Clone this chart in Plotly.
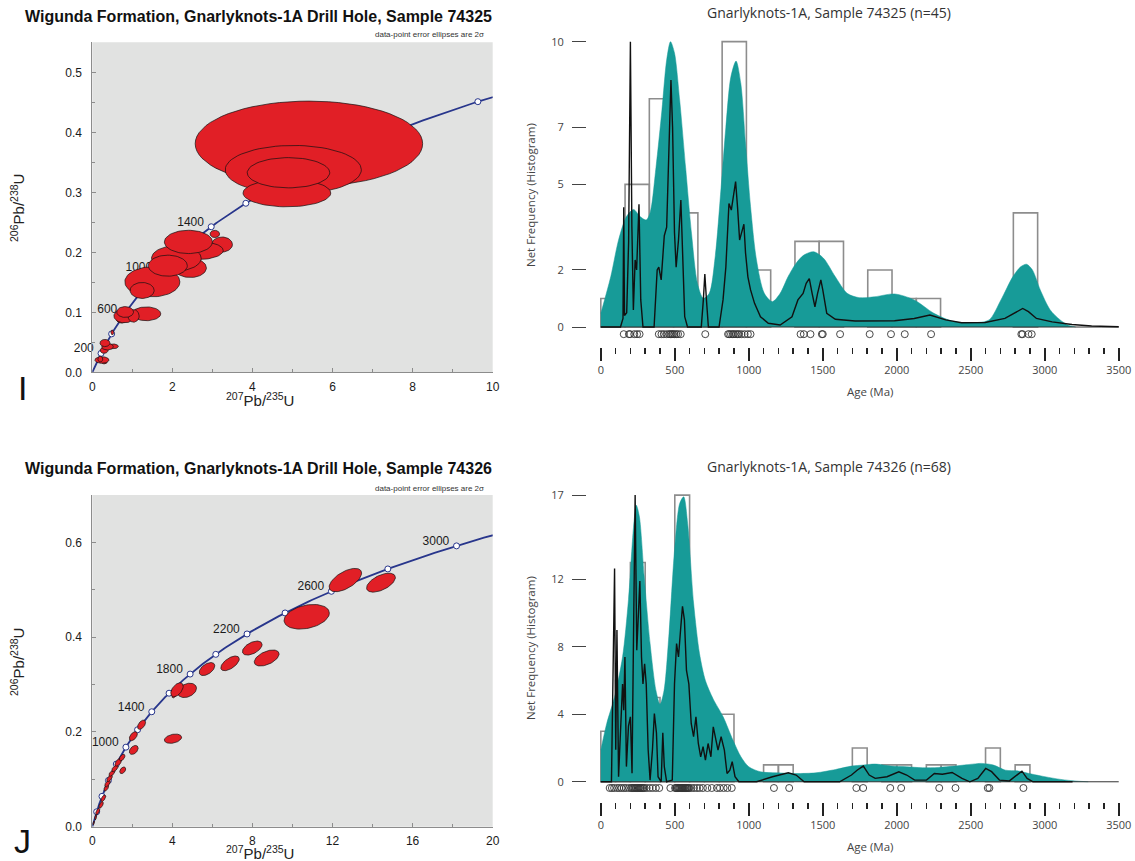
import numpy as np
import plotly.graph_objects as go

W, H = 1135, 861

# ---------------- Concordia (decay constants, per Ma) ----------------
LAMBDA_238 = 1.55125e-4
LAMBDA_235 = 9.8485e-4
CONC_MARKER_AGES = list(range(200, 3001, 200))
TOP_LABEL_AGES = [200, 600, 1000, 1400, 1800, 2200]
BOT_LABEL_AGES = [1000, 1400, 1800, 2200, 2600, 3000]

# ---------------- Error ellipses (cx, cy, half-x, half-y, rho) ----------------
top_ell_cx = [0.30, 0.24, 0.20, 0.296, 0.52, 0.38, 0.316, 0.50,
              0.73, 1.35, 0.80, 1.03, 0.82,
              3.24, 3.06, 2.65, 2.45, 2.10, 1.50, 1.886, 1.245, 2.40,
              5.41, 5.02, 4.86, 4.90]
top_ell_cy = [0.017, 0.0205, 0.022, 0.0366, 0.0432, 0.0427, 0.0488, 0.0665,
              0.088, 0.0975, 0.094, 0.094, 0.1005,
              0.213, 0.2306, 0.203, 0.174, 0.190, 0.1508, 0.1777, 0.1364, 0.2173,
              0.381, 0.3376, 0.2988, 0.3326]
top_ell_sx = [0.07, 0.175, 0.06, 0.10, 0.13, 0.145, 0.125, 0.035,
              0.13, 0.36, 0.26, 0.14, 0.21,
              0.26, 0.12, 0.62, 0.40, 0.62, 0.687, 0.487, 0.30, 0.60,
              2.84, 1.70, 1.095, 1.03]
top_ell_sy = [0.003, 0.0055, 0.005, 0.005, 0.004, 0.0055, 0.006, 0.004,
              0.006, 0.0115, 0.0115, 0.0105, 0.009,
              0.0125, 0.006, 0.015, 0.016, 0.021, 0.025, 0.0175, 0.0133, 0.0194,
              0.071, 0.0405, 0.023, 0.0252]

bot_ell_cx = [0.07, 0.17, 0.27, 0.44, 0.55, 0.70, 0.76, 0.86, 0.98, 1.13, 1.30,
              1.49, 1.52, 2.07, 2.05, 2.46, 4.03, 4.73, 4.10, 4.23,
              5.73, 6.88, 7.99, 8.71, 10.71, 12.64, 14.42]
bot_ell_cy = [0.008, 0.020, 0.032, 0.046, 0.060, 0.082, 0.091, 0.102, 0.113, 0.123, 0.136,
              0.146, 0.119, 0.162, 0.191, 0.2152, 0.1857, 0.2877, 0.278, 0.289,
              0.3327, 0.3447, 0.377, 0.356, 0.443, 0.5205, 0.515]
bot_ell_sx = [0.04, 0.05, 0.10, 0.11, 0.12, 0.12, 0.14, 0.14, 0.15, 0.16, 0.17,
              0.14, 0.15, 0.22, 0.20, 0.20, 0.43, 0.475, 0.12, 0.31,
              0.39, 0.46, 0.49, 0.62, 1.13, 0.81, 0.72]
bot_ell_sy = [0.004, 0.006, 0.007, 0.007, 0.007, 0.007, 0.007, 0.007, 0.0065, 0.007, 0.0085,
              0.007, 0.007, 0.0095, 0.0095, 0.0098, 0.0098, 0.0151, 0.006, 0.0148,
              0.0137, 0.0155, 0.0148, 0.0169, 0.026, 0.0246, 0.020]
bot_ell_rho = [0.6, 0.6, 0.6, 0.6, 0.6, 0.6, 0.6, 0.6, 0.6, 0.6, 0.6,
               0.5, 0.4, 0.4, 0.5, 0.5, 0.3, 0.3, 0.5, 0.5,
               0.5, 0.6, 0.5, 0.5, 0.3, 0.6, 0.55]

# ---------------- Detrital age spectra ----------------
AGE_TICKS = [0, 500, 1000, 1500, 2000, 2500, 3000, 3500]

top_bin_width = 164
top_counts = [1, 5, 8, 4, 1, 10, 2, 0, 3, 3, 0, 2, 1, 1, 0, 0, 0, 4]
top_yticks = [0, 2, 5, 7, 10]

top_ages = [155, 190, 198, 226, 245, 262, 392, 410, 426, 445, 461, 470, 480, 488,
            498, 510, 522, 540, 706, 860, 868, 880, 892, 900, 914, 925, 935, 951, 972,
            994, 1012, 1350, 1372, 1417, 1494, 1500, 1617, 1817, 1961, 2054, 2232,
            2842, 2850, 2890, 2912]

top_kde_age = [0, 67, 120, 173, 221, 266, 306, 333, 373, 413, 445, 471, 498, 533, 573,
               613, 653, 693, 733, 773, 813, 845, 879, 914, 946, 978, 1012, 1052, 1105, 1159,
               1212, 1265, 1319, 1372, 1439, 1505, 1585, 1665, 1745, 1851, 1985, 2118, 2251,
               2384, 2517, 2624, 2704, 2784, 2837, 2877, 2917, 2970, 3037, 3104, 3157, 3210]
top_kde_val = [0.48, 1.76, 3.05, 3.87, 4.12, 3.87, 3.75, 4.0, 5.6, 7.6, 9.36, 10.0, 9.6, 7.95, 5.6,
               3.28, 1.53, 1.0, 1.18, 2.46, 4.9, 7.0, 8.77, 9.32, 8.54, 6.44, 4.22, 2.35, 1.18, 0.89,
               1.18, 1.76, 2.23, 2.52, 2.64, 2.41, 1.76, 1.18, 1.03, 1.06, 1.16, 0.95, 0.48,
               0.19, 0.15, 0.25, 0.95, 1.76, 2.11, 2.2, 2.0, 1.3, 0.6, 0.25, 0.07, 0.0]

top_pdp_age = [0, 133, 150, 155, 160, 175, 188, 200, 210, 220, 232, 242, 258, 270, 285, 360, 381,
               392, 408, 429, 445, 461, 474, 485, 498, 509, 525, 541, 551, 567, 586, 679, 693, 703,
               714, 727, 799, 826, 845, 866, 882, 898, 911, 924, 938, 951, 967, 978, 994, 1012,
               1039, 1079, 1132, 1212, 1292, 1332, 1367, 1388, 1409, 1428, 1447, 1465, 1487, 1500,
               1527, 1585, 1718, 1985, 2118, 2224, 2331, 2438, 2597, 2731, 2811, 2851, 2890, 2944,
               3050, 3184, 3317, 3500]
top_pdp_val = [0, 0, 0.3, 4.2, 0.4, 0.5, 3.0, 10, 3.5, 0.6, 2.35, 2.0, 4.3, 0.95, 0, 0, 2.0,
               2.1, 1.65, 3.2, 3.5, 6.2, 8.66, 7.0, 3.3, 2.1, 3.05, 4.45, 3.05, 0.36, 0, 0, 0.95, 1.86,
               0.95, 0, 0, 0.95, 2.1, 4.33, 4.1, 4.7, 5.1, 4.2, 3.05, 3.3, 3.6, 2.6, 1.76, 1.3,
               0.83, 0.36, 0.13, 0.07, 0.36, 0.95, 1.18, 1.53, 1.7, 1.18, 0.71, 1.18, 1.65, 1.3,
               0.48, 0.27, 0.21, 0.22, 0.3, 0.42, 0.25, 0.15, 0.16, 0.3, 0.54, 0.65, 0.54, 0.3,
               0.18, 0.09, 0.035, 0.01]

bot_bin_width = 100
bot_counts = [3, 6, 13, 5, 1, 17, 5, 3, 4, 0, 0, 1, 1, 0, 0, 0, 0, 2, 0, 1, 1, 0, 1, 1, 0, 0, 2, 0, 1]
bot_yticks = [0, 4, 8, 12, 17]

bot_ages = [60, 75, 90, 110, 125, 140, 155, 170, 190,
            205, 212, 220, 228, 235, 242, 250, 258, 265, 272, 280, 288, 295,
            310, 330, 350, 372, 395, 470,
            502, 508, 514, 520, 526, 532, 538, 544, 550, 556, 562, 568, 574, 580, 586, 592, 598,
            612, 630, 650, 668, 690, 720, 750, 785, 805, 830, 855, 885,
            1170, 1273, 1727, 1773, 1956, 2030, 2287, 2397, 2615, 2626, 2856]

bot_kde_age = [0, 40, 93, 147, 187, 221, 240, 261, 293, 333, 373, 400, 427, 461, 498, 533, 560,
               587, 627, 667, 707, 760, 827, 893, 947, 1000, 1080, 1187, 1320, 1454, 1587, 1694,
               1774, 1854, 1961, 2067, 2174, 2281, 2388, 2494, 2574, 2654, 2734, 2814, 2894, 3001,
               3108, 3214, 3294]
bot_kde_val = [1.88, 3.46, 5.04, 7.41, 10.8, 15.1, 16.4, 15.7, 12.2, 8.2, 5.4, 4.6, 5.4, 8.8, 13.7,
               16.5, 16.9, 15.3, 10.6, 7.6, 6.0, 4.9, 3.85, 2.47, 1.48, 0.89, 0.59, 0.53, 0.49, 0.53,
               0.73, 0.93, 0.99, 1.05, 0.93, 0.89, 0.83, 0.85, 0.93, 1.03, 1.09, 0.99, 0.69, 0.65,
               0.49, 0.3, 0.14, 0.04, 0]

bot_pdp_age = [0, 72, 85, 93, 101, 109, 120, 136, 147, 155, 163, 173, 187, 200, 211, 221, 232, 243,
               253, 264, 275, 285, 296, 307, 320, 333, 349, 362, 376, 387, 408, 419, 429, 445, 483,
               498, 512, 525, 539, 552, 565, 579, 595, 611, 627, 643, 659, 675, 691, 707, 725, 744,
               760, 776, 792, 813, 835, 853, 872, 888, 907, 933, 1053, 1160, 1267, 1320, 1374, 1614,
               1694, 1734, 1774, 1814, 1854, 1934, 2014, 2067, 2121, 2201, 2254, 2308, 2374, 2441,
               2494, 2548, 2601, 2641, 2694, 2761, 2814, 2846, 2881, 2921, 3188]
bot_pdp_val = [0, 0, 7.8, 12.65, 1.9, 9.0, 0.3, 3.85, 5.8, 4.25, 7.4, 0.9, 3.3, 3.85, 0.5, 8.6, 17,
               7.8, 10.2, 11.9, 7.4, 5.8, 7.0, 5.8, 1.9, 0.1, 1.9, 4.05, 2.9, 0.3, 0, 2.9, 0.9, 0,
               0.1, 5.8, 8.2, 7.4, 9.0, 10.4, 9.6, 6.6, 5.8, 3.46, 2.67, 3.85, 2.27, 1.48, 2.08,
               1.28, 2.27, 1.48, 3.26, 2.47, 1.88, 2.67, 1.88, 0.49, 0.69, 1.19, 0.3, 0, 0, 0.3,
               0.53, 0.4, 0, 0, 0.4, 0.7, 0.93, 0.4, 0.2, 0.3, 0.59, 0.4, 0.1, 0.1, 0.49, 0.45,
               0.55, 0.2, 0, 0.2, 0.79, 0.6, 0.1, 0.05, 0.4, 0.63, 0.2, 0, 0]

# ---------------- Styling / layout constants ----------------
RED = "#e11f26"
NAVY = "#28368c"
TEAL = "#179b98"
BG = "#e1e2e1"
HIST_LINE = "#8d8d8d"
SANS = "Liberation Sans, Arial, sans-serif"
UI = "Open Sans, Noto Sans, sans-serif"

# subplot pixel boxes: (left, right, top, bottom)
CONC_TOP = (92.3, 492.7, 42.3, 372.3)
CONC_BOT = (92.3, 492.7, 495.0, 826.7)
HIST_TOP = (587.0, 1120.2, 33.1, 347.0)
HIST_BOT = (587.0, 1120.2, 486.7, 802.0)

CONC_TOP_RANGE = ([0, 10], [0, 0.55])
CONC_BOT_RANGE = ([0, 20], [0, 0.7])
AGE_RANGE = [-93.3, 3510]
HIST_TOP_YR = [-0.7, 10.3]
HIST_BOT_YR = [-1.2, 17.5]


def dx(box):
    return [box[0] / W, box[1] / W]


def dy(box):
    return [1 - box[3] / H, 1 - box[2] / H]


def concordia(t):
    t = np.asarray(t, dtype=float)
    return np.exp(LAMBDA_235 * t) - 1, np.exp(LAMBDA_238 * t) - 1


def ellipse(cx, cy, sx, sy, rho=0.0, n=73):
    th = np.linspace(0, 2 * np.pi, n)
    x = cx + sx * np.cos(th)
    y = cy + sy * (rho * np.cos(th) + np.sqrt(1 - rho ** 2) * np.sin(th))
    return x, y


fig = go.Figure()


def add_concordia(xa, ya, box, rng, cx, cy, sx, sy, rho, label_ages):
    (xr, yr) = rng
    ppx = (box[1] - box[0]) / (xr[1] - xr[0])
    ppy = (box[3] - box[2]) / (yr[1] - yr[0])
    t = np.linspace(0, 3300, 331)
    cxv, cyv = concordia(t)
    fig.add_trace(go.Scatter(x=cxv, y=cyv, mode="lines", xaxis=xa, yaxis=ya,
                             line=dict(color=NAVY, width=1.8), hoverinfo="skip"))
    mx, my = concordia(CONC_MARKER_AGES)
    fig.add_trace(go.Scatter(x=mx, y=my, mode="markers", xaxis=xa, yaxis=ya,
                             marker=dict(size=6, color="white", line=dict(color=NAVY, width=1)),
                             hoverinfo="skip"))
    lx, ly = concordia(label_ages)
    fig.add_trace(go.Scatter(x=lx - 5.0 / ppx, y=ly + 4.0 / ppy, mode="markers+text",
                             xaxis=xa, yaxis=ya, text=[str(a) for a in label_ages],
                             textposition="middle left", cliponaxis=False,
                             marker=dict(size=2, opacity=0),
                             textfont=dict(family=SANS, size=12, color="#1a1a1a"),
                             hoverinfo="skip"))
    for i in range(len(cx)):
        ex, ey = ellipse(cx[i], cy[i], sx[i], sy[i], rho[i])
        fig.add_trace(go.Scatter(x=ex, y=ey, mode="lines", fill="toself", xaxis=xa, yaxis=ya,
                                 fillcolor=RED, line=dict(color="#111111", width=0.7),
                                 hoverinfo="skip"))


add_concordia("x", "y", CONC_TOP, CONC_TOP_RANGE, top_ell_cx, top_ell_cy, top_ell_sx,
              top_ell_sy, [0.0] * len(top_ell_cx), TOP_LABEL_AGES)
add_concordia("x2", "y2", CONC_BOT, CONC_BOT_RANGE, bot_ell_cx, bot_ell_cy, bot_ell_sx,
              bot_ell_sy, bot_ell_rho, BOT_LABEL_AGES)


def add_spectrum(xa, ya, counts, width, kde_a, kde_v, pdp_a, pdp_v, ages, circle_y):
    fig.add_trace(go.Scatter(x=kde_a, y=kde_v, mode="lines", fill="tozeroy", xaxis=xa, yaxis=ya,
                             line=dict(color=TEAL, width=0.5, shape="spline", smoothing=0.8),
                             fillcolor=TEAL, hoverinfo="skip"))
    centers = [width * (i + 0.5) for i, c in enumerate(counts) if c > 0]
    heights = [c for c in counts if c > 0]
    fig.add_trace(go.Bar(x=centers, y=heights, width=width, xaxis=xa, yaxis=ya,
                         marker=dict(color="rgba(0,0,0,0)", line=dict(color=HIST_LINE, width=1.6)),
                         hoverinfo="skip"))
    fig.add_trace(go.Scatter(x=[AGE_TICKS[0], AGE_TICKS[-1]], y=[0, 0], mode="lines",
                             xaxis=xa, yaxis=ya, line=dict(color="#333333", width=1),
                             hoverinfo="skip"))
    fig.add_trace(go.Scatter(x=pdp_a, y=pdp_v, mode="lines", xaxis=xa, yaxis=ya,
                             line=dict(color="#111111", width=1.4), hoverinfo="skip"))
    fig.add_trace(go.Scatter(x=ages, y=[circle_y] * len(ages), mode="markers", xaxis=xa,
                             yaxis=ya, cliponaxis=False,
                             marker=dict(symbol="circle-open", size=7, color="#333333",
                                         line=dict(width=0.9)),
                             hoverinfo="skip"))


add_spectrum("x3", "y3", top_counts, top_bin_width, top_kde_age, top_kde_val,
             top_pdp_age, top_pdp_val, top_ages, -0.25)
add_spectrum("x4", "y4", bot_counts, bot_bin_width, bot_kde_age, bot_kde_val,
             bot_pdp_age, bot_pdp_val, bot_ages, -0.37)

conc_tickfont = dict(family=SANS, size=12, color="#1a1a1a")


def conc_x(box, rng, dtick, minor, anchor):
    return dict(domain=dx(box), range=rng, dtick=dtick, tick0=0, showgrid=False, zeroline=False,
                showline=True, linecolor="#8c8c8c", linewidth=1, ticks="inside", ticklen=4,
                tickcolor="#8c8c8c", tickfont=conc_tickfont, ticklabelstandoff=3,
                automargin=False, anchor=anchor,
                minor=dict(dtick=minor, tick0=0, ticks="inside", ticklen=3, tickcolor="#8c8c8c",
                           showgrid=False), fixedrange=True)


def conc_y(box, rng, dtick, minor, anchor):
    return dict(domain=dy(box), range=rng, dtick=dtick, tick0=0, tickformat=".1f",
                showgrid=False, zeroline=False, showline=True, linecolor="#8c8c8c", linewidth=1,
                ticks="inside", ticklen=4, tickcolor="#8c8c8c", tickfont=conc_tickfont,
                ticklabelstandoff=7, anchor=anchor, automargin=False,
                minor=dict(dtick=minor, tick0=0, ticks="inside", ticklen=3, tickcolor="#8c8c8c",
                           showgrid=False), fixedrange=True)


hist_tickfont = dict(family=UI, size=11, color="#444444")


def hist_x(box, anchor):
    return dict(domain=dx(box), range=AGE_RANGE, tickvals=AGE_TICKS, showgrid=False,
                zeroline=False, showline=False, ticks="outside", ticklen=13, tickwidth=2,
                tickcolor="#222222", tickfont=hist_tickfont, anchor=anchor, ticklabelstandoff=0,
                automargin=False,
                minor=dict(dtick=100, tick0=0, ticks="outside", ticklen=6, tickwidth=1.5,
                           tickcolor="#222222", showgrid=False), fixedrange=True)


def hist_y(box, rng, tickvals, anchor):
    return dict(domain=dy(box), range=rng, tickvals=tickvals, showgrid=False, zeroline=False,
                showline=False, ticks="outside", ticklen=14, tickwidth=1, tickcolor="#444444",
                tickfont=hist_tickfont, ticklabelstandoff=6, anchor=anchor, automargin=False,
                fixedrange=True)


def ann(text, x, y, size, family=SANS, color="#111111", xanchor="center", angle=0):
    return dict(text=text, x=x / W, y=1 - y / H, xref="paper", yref="paper", showarrow=False,
                xanchor=xanchor, yanchor="middle", textangle=angle,
                font=dict(family=family, size=size, color=color))


annotations = [
    ann("<b>Wigunda Formation, Gnarlyknots-1A Drill Hole, Sample 74325</b>", 23, 17, 16,
        xanchor="left"),
    ann("<b>Wigunda Formation, Gnarlyknots-1A Drill Hole, Sample 74326</b>", 23, 469, 16,
        xanchor="left"),
    ann("data-point error ellipses are 2σ", 486, 34.5, 8, color="#333333", xanchor="right"),
    ann("data-point error ellipses are 2σ", 486, 488, 8, color="#333333", xanchor="right"),
    ann("<sup>206</sup>Pb/<sup>238</sup>U", 17, 208, 15, angle=-90, color="#222222"),
    ann("<sup>206</sup>Pb/<sup>238</sup>U", 17, 662, 15, angle=-90, color="#222222"),
    ann("<sup>207</sup>Pb/<sup>235</sup>U", 260, 400, 15, color="#222222"),
    ann("<sup>207</sup>Pb/<sup>235</sup>U", 260, 852.5, 15, color="#222222"),
    ann("I", 22, 388, 34, family="Liberation Sans Narrow, Liberation Sans, sans-serif"),
    ann("J", 22, 841, 34, family="Liberation Sans Narrow, Liberation Sans, sans-serif"),
    ann("Gnarlyknots-1A, Sample 74325 (n=45)", 829, 13, 14, family=UI, color="#333333"),
    ann("Gnarlyknots-1A, Sample 74326 (n=68)", 829, 466, 14, family=UI, color="#333333"),
    ann("Net Frequency (Histogram)", 530, 195, 11.5, family=UI, color="#444444", angle=-90),
    ann("Net Frequency (Histogram)", 530, 648, 11.5, family=UI, color="#444444", angle=-90),
    ann("Age (Ma)", 870, 391, 11.5, family=UI, color="#444444"),
    ann("Age (Ma)", 870, 846, 11.5, family=UI, color="#444444"),
]

shapes = [
    dict(type="rect", xref="x domain", yref="y domain", x0=0, x1=1, y0=0, y1=1,
         fillcolor=BG, line=dict(width=0), layer="below"),
    dict(type="rect", xref="x2 domain", yref="y2 domain", x0=0, x1=1, y0=0, y1=1,
         fillcolor=BG, line=dict(width=0), layer="below"),
]

fig.update_layout(
    template="none",
    width=W, height=H, margin=dict(l=0, r=0, t=0, b=0, autoexpand=False),
    paper_bgcolor="white", plot_bgcolor="white", showlegend=False, hovermode=False,
    bargap=0,
    xaxis=conc_x(CONC_TOP, CONC_TOP_RANGE[0], 2, 1, "y"),
    yaxis=conc_y(CONC_TOP, CONC_TOP_RANGE[1], 0.1, 0.05, "x"),
    xaxis2=conc_x(CONC_BOT, CONC_BOT_RANGE[0], 4, 2, "y2"),
    yaxis2=conc_y(CONC_BOT, CONC_BOT_RANGE[1], 0.2, 0.1, "x2"),
    xaxis3=hist_x(HIST_TOP, "y3"),
    yaxis3=hist_y(HIST_TOP, HIST_TOP_YR, top_yticks, "x3"),
    xaxis4=hist_x(HIST_BOT, "y4"),
    yaxis4=hist_y(HIST_BOT, HIST_BOT_YR, bot_yticks, "x4"),
    annotations=annotations, shapes=shapes,
)

fig.write_html(
    "out.html",
    config={"displayModeBar": False, "staticPlot": True},
    post_script="document.body.style.margin='0px';document.body.style.overflow='hidden';",
)
